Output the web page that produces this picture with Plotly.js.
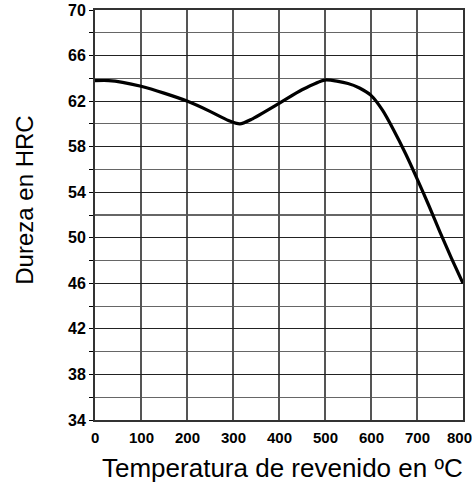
<!DOCTYPE html>
<html>
<head>
<meta charset="utf-8">
<script src="https://cdn.plot.ly/plotly-3.0.1.min.js"></script>
<style>html,body{margin:0;padding:0;background:#fff;}#chart{width:472px;height:486px;}</style>
</head>
<body>
<div id="chart"></div>
<script>
const temperature = [0, 30, 60, 100, 150, 200, 250, 290, 315, 340, 400, 450, 500, 550, 575, 600, 625, 650, 675, 700, 725, 750, 775, 800];
const hardness    = [63.8, 63.8, 63.65, 63.3, 62.7, 62.0, 61.1, 60.3, 60.0, 60.4, 61.8, 63.0, 63.85, 63.55, 63.15, 62.5, 61.2, 59.4, 57.4, 55.2, 52.9, 50.5, 48.2, 46.0];
const xTicks = [0, 100, 200, 300, 400, 500, 600, 700, 800];
const yTicks = [34, 38, 42, 46, 50, 54, 58, 62, 66, 70];
const xTitle = 'Temperatura de revenido en ºC';
const yTitle = 'Dureza en HRC';

const font = 'Liberation Sans, Arial, sans-serif';

const xLabelAnn = xTicks.map((v, i) => ({
  text: String(v), xref: 'x', yref: 'paper', x: v, y: -0.018,
  xanchor: i === xTicks.length - 1 ? 'right' : 'center', yanchor: 'top',
  xshift: i === xTicks.length - 1 ? 11 : 0,
  showarrow: false, font: {family: font, size: 15, weight: 'bold', color: '#000'}
}));

Plotly.newPlot('chart', [{
  x: temperature,
  y: hardness,
  type: 'scatter',
  mode: 'lines',
  line: {color: '#000', width: 3.2, shape: 'spline', smoothing: 0.6},
  hoverinfo: 'skip'
}], {
  width: 472, height: 486,
  margin: {l: 95, r: 9, t: 10, b: 66},
  paper_bgcolor: '#fff', plot_bgcolor: '#fff',
  showlegend: false,
  font: {family: font, color: '#000'},
  xaxis: {
    range: [0, 800], tickvals: xTicks, showticklabels: false,
    showgrid: true, gridcolor: '#555', gridwidth: 1.3,
    showline: true, linecolor: '#333', linewidth: 2, mirror: true,
    zeroline: false, ticks: '',
    fixedrange: true
  },
  yaxis: {
    range: [34, 70], tickvals: yTicks, ticktext: yTicks.map(String),
    showgrid: true, gridcolor: '#222', gridwidth: 1.2,
    minor: {dtick: 2, tick0: 34, showgrid: true, gridcolor: '#666', gridwidth: 1.2, ticks: 'outside', ticklen: 4, tickcolor: '#000'},
    showline: true, linecolor: '#333', linewidth: 2, mirror: true,
    zeroline: false, ticks: 'outside', ticklen: 4, tickcolor: '#000', tickwidth: 1,
    tickfont: {family: font, size: 16, weight: 'bold', color: '#000'},
    fixedrange: true
  },
  annotations: xLabelAnn.concat([
    {text: xTitle, xref: 'paper', yref: 'paper', x: 0.51, y: -0.117, xanchor: 'center', yanchor: 'middle',
     showarrow: false, font: {family: font, size: 26, color: '#000'}},
    {text: yTitle, xref: 'paper', yref: 'paper', x: -0.19, y: 0.535, xanchor: 'center', yanchor: 'middle',
     textangle: -90, showarrow: false, font: {family: font, size: 24, color: '#000'}}
  ])
}, {displayModeBar: false, staticPlot: true});
</script>
</body>
</html>
